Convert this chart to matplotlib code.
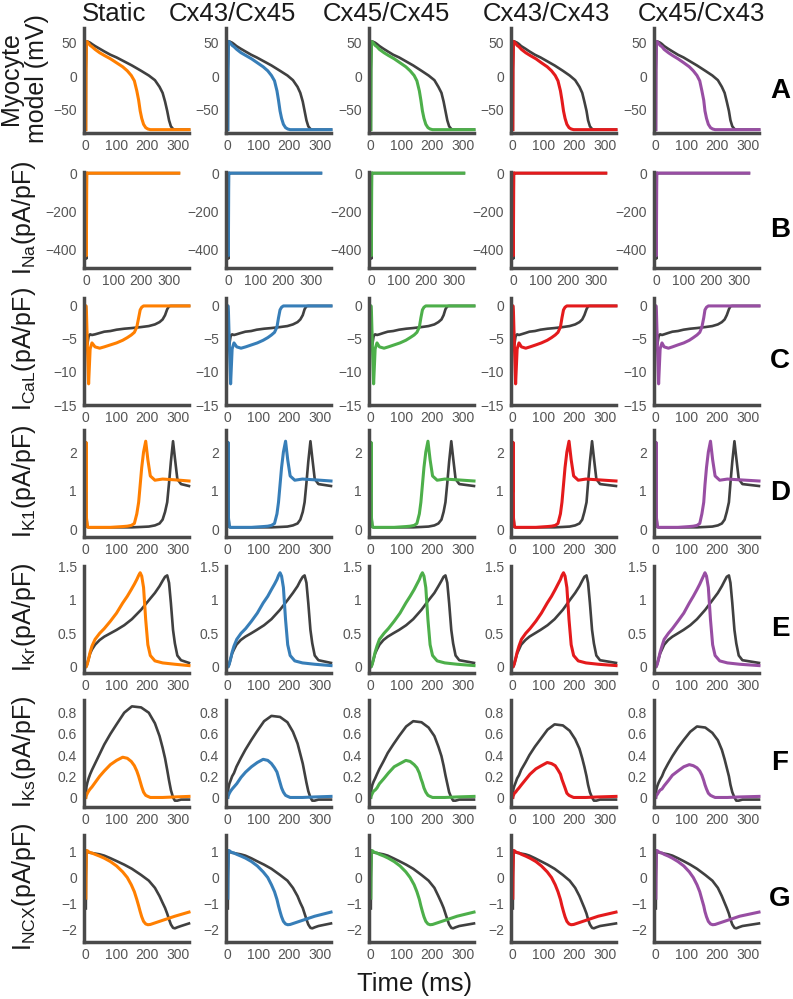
import matplotlib.pyplot as plt
from matplotlib.ticker import FuncFormatter

plt.rcParams['font.family'] = ['Liberation Sans', 'DejaVu Sans']
plt.rcParams['axes.unicode_minus'] = True

columns = ['Static', 'Cx43/Cx45', 'Cx45/Cx45', 'Cx43/Cx43', 'Cx45/Cx43']
colors = ['#ff7f00', '#377eb8', '#4daf4a', '#e41a1c', '#984ea3']
dark = '#404040'

# sample times (ms), coloured trace / grey trace
t_col = [
    [0, 0.5, 2, 5, 9, 14, 20, 30, 45, 60, 80, 100, 120, 135, 148, 158, 166, 172, 177, 182, 188, 195, 202, 210, 225, 250, 290, 336],
    [0, 0.5, 2, 5, 9, 14, 20, 29, 43, 58, 77, 96, 115, 130, 142, 152, 160, 165, 170, 175, 181, 188, 195, 203, 218, 243, 283, 336],
    [0, 0.5, 2, 5, 9, 14, 20, 28, 43, 57, 76, 95, 114, 128, 141, 150, 158, 163, 168, 173, 179, 186, 193, 201, 216, 241, 281, 336],
    [0, 0.5, 2, 5, 9, 14, 20, 28, 42, 56, 75, 93, 112, 126, 138, 147, 155, 160, 165, 170, 176, 183, 190, 198, 213, 238, 278, 336],
    [0, 0.5, 2, 5, 9, 14, 20, 27, 41, 54, 72, 91, 109, 122, 134, 143, 150, 156, 160, 165, 171, 178, 185, 193, 208, 233, 273, 336],
]
t_grey = [
    [0, 0.5, 2, 5, 9, 14, 20, 30, 45, 60, 80, 100, 125, 150, 180, 205, 225, 240, 250, 258, 265, 271, 277, 284, 290, 298, 310, 336],
    [0, 0.5, 2, 5, 9, 14, 20, 28, 42, 57, 76, 94, 118, 142, 170, 194, 212, 227, 236, 244, 250, 256, 262, 269, 275, 283, 295, 336],
    [0, 0.5, 2, 5, 9, 14, 20, 28, 41, 55, 73, 92, 115, 138, 165, 188, 207, 220, 230, 237, 243, 249, 255, 262, 268, 276, 288, 336],
    [0, 0.5, 2, 5, 9, 14, 20, 27, 41, 54, 72, 90, 113, 136, 163, 185, 203, 217, 226, 233, 240, 245, 251, 258, 264, 272, 284, 336],
    [0, 0.5, 2, 5, 9, 14, 20, 27, 40, 54, 72, 90, 112, 134, 161, 184, 202, 215, 224, 231, 238, 243, 249, 256, 262, 270, 282, 336],
]

# A: membrane potential (mV)
ap_col = [-80, 10, 52, 51, 49, 46, 44, 40, 35, 31, 26, 20, 14, 8, 1, -7, -22, -36, -52, -63, -72, -77, -79, -80, -80, -80, -80, -80]
ap_grey = [-80, 10, 52, 52, 51, 50, 48, 45, 41, 37, 32, 28, 22, 16, 8, 1, -6, -16, -25, -38, -52, -66, -75, -79, -80, -80, -80, -80]
# B: I_Na
ina_col = [0, -430, -5, 0, 0, 0, 0, 0, 0, 0, 0, 0, 0, 0, 0, 0, 0, 0, 0, 0, 0, 0, 0, 0, 0, 0, 0, 0]
ina_grey = [0, -445, -8, 0, 0, 0, 0, 0, 0, 0, 0, 0, 0, 0, 0, 0, 0, 0, 0, 0, 0, 0, 0, 0, 0, 0, 0, 0]
# C: I_CaL
ical_col = [0, 0, -1, -6, -11.8, -6.5, -5.6, -6.2, -6.4, -6.2, -5.9, -5.6, -5.2, -4.8, -4.4, -4.0, -3.2, -1.8, -0.6, -0.2, 0, 0, 0, 0, 0, 0, 0, 0]
ical_grey = [0, 0, -3, -5.8, -4.6, -4.3, -4.4, -4.3, -4.1, -3.9, -3.8, -3.6, -3.45, -3.35, -3.2, -3.05, -2.8, -2.45, -2.05, -1.4, -0.5, -0.05, 0, 0, 0, 0, 0, 0]
# D: I_K1
ik1_col = [1.0, 2.25, 0.3, 0.06, 0.05, 0.05, 0.05, 0.05, 0.05, 0.05, 0.05, 0.06, 0.07, 0.08, 0.1, 0.15, 0.4, 0.7, 1.15, 1.6, 2.0, 2.28, 1.8, 1.38, 1.27, 1.3, 1.28, 1.25]
ik1_grey = [1.0, 2.25, 0.3, 0.06, 0.05, 0.05, 0.05, 0.05, 0.05, 0.05, 0.05, 0.05, 0.05, 0.05, 0.06, 0.07, 0.1, 0.15, 0.25, 0.45, 0.7, 1.2, 1.75, 2.28, 1.85, 1.3, 1.17, 1.12]
# E: I_Kr
ikr_col = [0, 0, 0.01, 0.05, 0.12, 0.22, 0.31, 0.41, 0.5, 0.57, 0.68, 0.8, 0.95, 1.05, 1.15, 1.23, 1.3, 1.36, 1.4, 1.35, 1.18, 0.7, 0.33, 0.17, 0.09, 0.06, 0.04, 0.02]
ikr_grey = [0, 0, 0.01, 0.05, 0.12, 0.2, 0.26, 0.33, 0.4, 0.45, 0.5, 0.55, 0.62, 0.71, 0.85, 0.99, 1.1, 1.2, 1.28, 1.34, 1.36, 1.25, 0.95, 0.55, 0.35, 0.17, 0.1, 0.06]
# F: I_Ks, amplitude differs per column
iks_col = [
    [0, 0.01, 0.02, 0.04, 0.06, 0.08, 0.10, 0.14, 0.20, 0.25, 0.31, 0.35, 0.38, 0.37, 0.34, 0.30, 0.25, 0.20, 0.15, 0.10, 0.05, 0.02, 0.01, 0, 0, 0, 0.005, 0.01],
    [0, 0.01, 0.02, 0.04, 0.06, 0.08, 0.10, 0.13, 0.19, 0.24, 0.29, 0.33, 0.36, 0.35, 0.32, 0.28, 0.24, 0.19, 0.14, 0.09, 0.05, 0.02, 0.01, 0, 0, 0, 0.005, 0.01],
    [0, 0.01, 0.02, 0.04, 0.06, 0.07, 0.09, 0.13, 0.18, 0.23, 0.29, 0.32, 0.35, 0.34, 0.31, 0.28, 0.23, 0.18, 0.14, 0.09, 0.05, 0.02, 0.01, 0, 0, 0, 0.005, 0.01],
    [0, 0.01, 0.02, 0.04, 0.05, 0.07, 0.09, 0.12, 0.17, 0.22, 0.27, 0.30, 0.33, 0.32, 0.30, 0.26, 0.22, 0.17, 0.13, 0.09, 0.04, 0.02, 0.01, 0, 0, 0, 0.005, 0.01],
    [0, 0.01, 0.02, 0.03, 0.05, 0.07, 0.08, 0.11, 0.16, 0.21, 0.25, 0.29, 0.31, 0.30, 0.28, 0.25, 0.21, 0.16, 0.12, 0.08, 0.04, 0.02, 0.01, 0, 0, 0, 0.005, 0.01],
]
iks_grey = [
    [0, 0.05, 0.1, 0.14, 0.18, 0.22, 0.26, 0.32, 0.41, 0.5, 0.6, 0.69, 0.8, 0.86, 0.85, 0.8, 0.7, 0.58, 0.47, 0.37, 0.26, 0.16, 0.07, 0.0, -0.03, -0.03, -0.02, -0.02],
    [0, 0.05, 0.09, 0.13, 0.16, 0.2, 0.23, 0.29, 0.37, 0.45, 0.54, 0.62, 0.72, 0.77, 0.76, 0.71, 0.62, 0.51, 0.41, 0.32, 0.23, 0.14, 0.06, 0.0, -0.03, -0.03, -0.02, -0.02],
    [0, 0.04, 0.08, 0.12, 0.15, 0.18, 0.22, 0.27, 0.34, 0.42, 0.5, 0.58, 0.67, 0.72, 0.71, 0.66, 0.58, 0.48, 0.39, 0.3, 0.21, 0.13, 0.05, 0.0, -0.03, -0.03, -0.02, -0.02],
    [0, 0.04, 0.08, 0.11, 0.14, 0.18, 0.21, 0.26, 0.33, 0.4, 0.48, 0.55, 0.64, 0.69, 0.68, 0.63, 0.55, 0.46, 0.37, 0.29, 0.2, 0.12, 0.05, 0.0, -0.03, -0.03, -0.02, -0.02],
    [0, 0.04, 0.08, 0.11, 0.14, 0.17, 0.2, 0.25, 0.32, 0.39, 0.47, 0.54, 0.62, 0.67, 0.66, 0.61, 0.54, 0.45, 0.36, 0.28, 0.2, 0.12, 0.05, 0.0, -0.03, -0.03, -0.02, -0.02],
]
# G: I_NCX
incx_col = [-0.8, 0.2, 1.05, 1.04, 1.0, 0.97, 0.95, 0.9, 0.83, 0.75, 0.62, 0.45, 0.22, 0.0, -0.28, -0.55, -0.85, -1.1, -1.32, -1.52, -1.7, -1.8, -1.83, -1.82, -1.76, -1.66, -1.5, -1.34]
incx_grey = [-1.2, 0.0, 1.0, 1.0, 0.98, 0.96, 0.95, 0.93, 0.9, 0.85, 0.75, 0.64, 0.5, 0.34, 0.1, -0.12, -0.4, -0.72, -0.98, -1.18, -1.4, -1.62, -1.82, -1.95, -1.97, -1.93, -1.88, -1.78]

row_letters = ['A', 'B', 'C', 'D', 'E', 'F', 'G']
row_labels = ['Myocyte\nmodel (mV)',
              r'$\mathregular{I_{Na}}$(pA/pF)',
              r'$\mathregular{I_{CaL}}$(pA/pF)',
              r'$\mathregular{I_{K1}}$(pA/pF)',
              r'$\mathregular{I_{Kr}}$(pA/pF)',
              r'$\mathregular{I_{Ks}}$(pA/pF)',
              r'$\mathregular{I_{NCX}}$(pA/pF)']
grey_vals = [[ap_grey] * 5, [ina_grey] * 5, [ical_grey] * 5, [ik1_grey] * 5,
             [ikr_grey] * 5, iks_grey, [incx_grey] * 5]
col_vals = [[ap_col] * 5, [ina_col] * 5, [ical_col] * 5, [ik1_col] * 5,
            [ikr_col] * 5, iks_col, [incx_col] * 5]
ylims = [(-85, 72), (-494, 6), (-15, 1.2), (-0.2, 2.57), (-0.09, 1.5), (-0.09, 0.92), (-2.5, 1.65)]
yticks = [[-50, 0, 50], [-400, -200, 0], [-15, -10, -5, 0], [0, 1, 2],
          [0, 0.5, 1, 1.5], [0, 0.2, 0.4, 0.6, 0.8], [-2, -1, 0, 1]]

# layout in pixels of the 793x999 figure
W, H = 793, 999
row_top = [28, 172, 298, 430, 566, 700, 835]
row_bot = [133, 268, 405, 537, 673, 807, 942]
col_left = [84, 226, 369, 511, 654]
ax_w = 105
spine_c = '#4a4a4a'
tick_c = '#555555'

fmt = FuncFormatter(lambda v, p: ('%g' % v).replace('-', '\u2212'))

fig = plt.figure(figsize=(W / 100, H / 100), dpi=100)

for i in range(7):
    for j in range(5):
        ax = fig.add_axes([col_left[j] / W, 1 - row_bot[i] / H, ax_w / W, (row_bot[i] - row_top[i]) / H])
        ax.plot(t_grey[j], grey_vals[i][j], color=dark, lw=1.9, clip_on=False)
        ax.plot(t_col[j], col_vals[i][j], color=colors[j], lw=2.2, clip_on=False)
        ax.set_ylim(*ylims[i])
        ax.set_xlim(-8, 373) if i == 1 else ax.set_xlim(-6, 336)
        ax.set_xticks([0, 100, 200, 300])
        ax.set_yticks(yticks[i])
        ax.xaxis.set_major_formatter(fmt)
        ax.yaxis.set_major_formatter(fmt)
        for s in ['top', 'right']:
            ax.spines[s].set_visible(False)
        for s in ['left', 'bottom']:
            ax.spines[s].set_linewidth(2.5)
            ax.spines[s].set_color(spine_c)
        ax.tick_params(length=0, labelsize=10, labelcolor=tick_c)
        ax.tick_params(axis='x', pad=4)
        ax.tick_params(axis='y', pad=5)
        ax.patch.set_alpha(0)
    yc = (row_top[i] + row_bot[i]) / 2
    fig.text(24 / W, 1 - (yc - 2) / H, row_labels[i], rotation=90, ha='center', va='center',
             fontsize=18, color='#1a1a1a', linespacing=1.1)
    fig.text(780 / W, 1 - (yc + 10) / H, row_letters[i], ha='center', va='center',
             fontsize=20, fontweight='bold', color='black')

for j, name in enumerate(columns):
    xc = [114, 232, 386, 546, 701][j]
    fig.text(xc / W, 1 - 21 / H, name, ha='center', va='baseline', fontsize=18.5, color='#1a1a1a')

fig.text(415 / W, 1 - 991 / H, 'Time (ms)', ha='center', va='baseline', fontsize=18.5, color='#1a1a1a')

fig.savefig('out.png', dpi=100)
